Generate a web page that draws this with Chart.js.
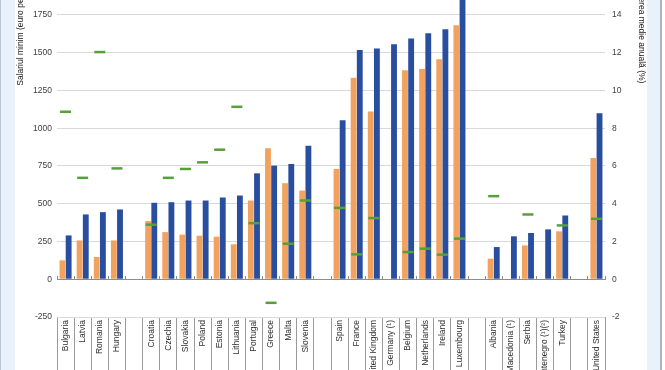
<!DOCTYPE html>
<html>
<head>
<meta charset="utf-8">
<script src="https://cdn.jsdelivr.net/npm/chart.js@4.4.1/dist/chart.umd.min.js"></script>
<style>
  html, body { margin: 0; padding: 0; background: #ffffff; }
  #frame { position: relative; width: 665px; height: 370px; overflow: hidden; background: #ffffff; }
  #leftStrip { position: absolute; left: 0; top: 0; width: 15px; height: 370px; background: #e9f1fb; border-left: 1px solid #b9c6d3; box-sizing: border-box; }
  #rightStrip { position: absolute; left: 647px; top: 0; width: 15px; height: 370px; background: #e9f1fb; border-right: 2px solid #aab6c2; box-sizing: border-box; }
  #wrap { position: absolute; left: 15px; top: -35px; width: 632px; height: 405px; }
</style>
</head>
<body>
<div id="frame">
  <div id="leftStrip"></div>
  <div id="rightStrip"></div>
  <div id="wrap"><canvas id="c"></canvas></div>
</div>
<script>
// Categories ('' = empty separator slot between country groups)
const categories = [
  'Bulgaria', 'Latvia', 'Romania', 'Hungary', '',
  'Croatia', 'Czechia', 'Slovakia', 'Poland', 'Estonia', 'Lithuania', 'Portugal', 'Greece', 'Malta', 'Slovenia', '',
  'Spain', 'France', 'United Kingdom', 'Germany (¹)', 'Belgium', 'Netherlands', 'Ireland', 'Luxembourg', '',
  'Albania', 'FYR of Macedonia (¹)', 'Serbia', 'Montenegro (¹)(²)', 'Turkey', '',
  'United States'
];

// Minimum wage, earlier year (EUR per month) - orange bars
const wageEarlier = [
  125, 257, 147, 257, null,
  385, 312, 295, 288, 282, 231, 521, 867, 636, 587, null,
  730, 1334, 1110, null, 1383, 1392, 1456, 1682, null,
  136, null, 224, null, 317, null,
  803
];

// Minimum wage, later year (EUR per month) - blue bars
const wageLater = [
  290, 429, 444, 462, null,
  506, 510, 521, 521, 541, 554, 701, 752, 763, 884, null,
  1053, 1517, 1528, 1555, 1594, 1629, 1654, 2050, null,
  213, 284, 306, 330, 422, null,
  1098
];

// Average annual growth rate (%) - green dashes, right axis
const growthRate = [
  8.87, 5.37, 12.03, 5.87, null,
  2.89, 5.37, 5.84, 6.19, 6.86, 9.13, 2.97, -1.25, 1.88, 4.17, null,
  3.78, 1.32, 3.24, null, 1.44, 1.62, 1.30, 2.15, null,
  4.40, null, 3.43, null, 2.85, null,
  3.20
];

const leftTitle = 'Salariul minim (euro pe lună)';
const rightTitle = 'Creșterea medie anuală (%)';

const FONT = 'Arial, "Liberation Sans", sans-serif';

new Chart(document.getElementById('c'), {
  type: 'bar',
  data: {
    labels: categories,
    datasets: [
      {
        type: 'line',
        label: 'Rata medie anuală',
        data: growthRate,
        yAxisID: 'y2',
        xAxisID: 'x',
        showLine: false,
        pointStyle: 'line',
        pointRadius: 5.5,
        pointHoverRadius: 5.5,
        pointBorderWidth: 2.5,
        borderColor: '#56a03a',
        backgroundColor: '#56a03a',
        order: 0
      },
      {
        label: 'Salariul minim (an anterior)',
        data: wageEarlier,
        backgroundColor: '#f2a25f',
        borderWidth: 0,
        yAxisID: 'y',
        xAxisID: 'x',
        categoryPercentage: 0.72,
        barPercentage: 0.95,
        order: 1
      },
      {
        label: 'Salariul minim (an recent)',
        data: wageLater,
        backgroundColor: '#2a4e9f',
        borderWidth: 0,
        yAxisID: 'y',
        xAxisID: 'x',
        categoryPercentage: 0.72,
        barPercentage: 0.95,
        order: 1
      }
    ]
  },
  options: {
    responsive: true,
    maintainAspectRatio: false,
    animation: false,
    events: [],
    layout: { padding: 0 },
    plugins: {
      legend: { display: false },
      title: { display: false },
      tooltip: { enabled: false }
    },
    scales: {
      x: {
        type: 'category',
        position: 'bottom',
        offset: true,
        afterFit: (s) => { s.height = 53; },
        grid: {
          offset: true,
          drawOnChartArea: false,
          drawTicks: true,
          tickLength: 60,
          color: '#9a9a9a',
          lineWidth: 1
        },
        border: { display: false },
        ticks: {
          autoSkip: false,
          minRotation: 90,
          maxRotation: 90,
          padding: -57,
          color: '#303030',
          font: { family: FONT, size: 8.5 }
        }
      },
      xz: {
        type: 'category',
        axis: 'x',
        labels: categories,
        position: { y: 0 },
        offset: true,
        grid: {
          offset: true,
          drawOnChartArea: false,
          drawTicks: true,
          tickLength: -4,
          color: '#8c8c8c',
          lineWidth: 1
        },
        border: { display: true, color: '#8c8c8c', width: 1 },
        ticks: { display: false }
      },
      y: {
        position: 'left',
        min: -250,
        max: 2000,
        afterFit: (s) => { s.width = 42; },
        grid: { color: '#d9d9d9', drawTicks: false, lineWidth: 1 },
        border: { display: false },
        ticks: {
          stepSize: 250,
          padding: 5,
          color: '#404040',
          font: { family: FONT, size: 8.5 },
          callback: (v) => String(v)
        },
        title: {
          display: true,
          text: leftTitle,
          align: 'end',
          color: '#202020',
          padding: { top: 1, bottom: 0 },
          font: { family: FONT, size: 8.5 }
        }
      },
      y2: {
        position: 'right',
        min: -2,
        max: 16,
        afterFit: (s) => { s.width = 42; },
        grid: { drawOnChartArea: false, drawTicks: false },
        border: { display: false },
        ticks: {
          stepSize: 2,
          padding: 7,
          color: '#404040',
          font: { family: FONT, size: 8.5 },
          callback: (v) => String(v)
        },
        title: {
          display: true,
          text: rightTitle,
          align: 'end',
          color: '#202020',
          padding: { top: 1, bottom: 0 },
          font: { family: FONT, size: 8.5 }
        }
      }
    }
  }
});
</script>
</body>
</html>
